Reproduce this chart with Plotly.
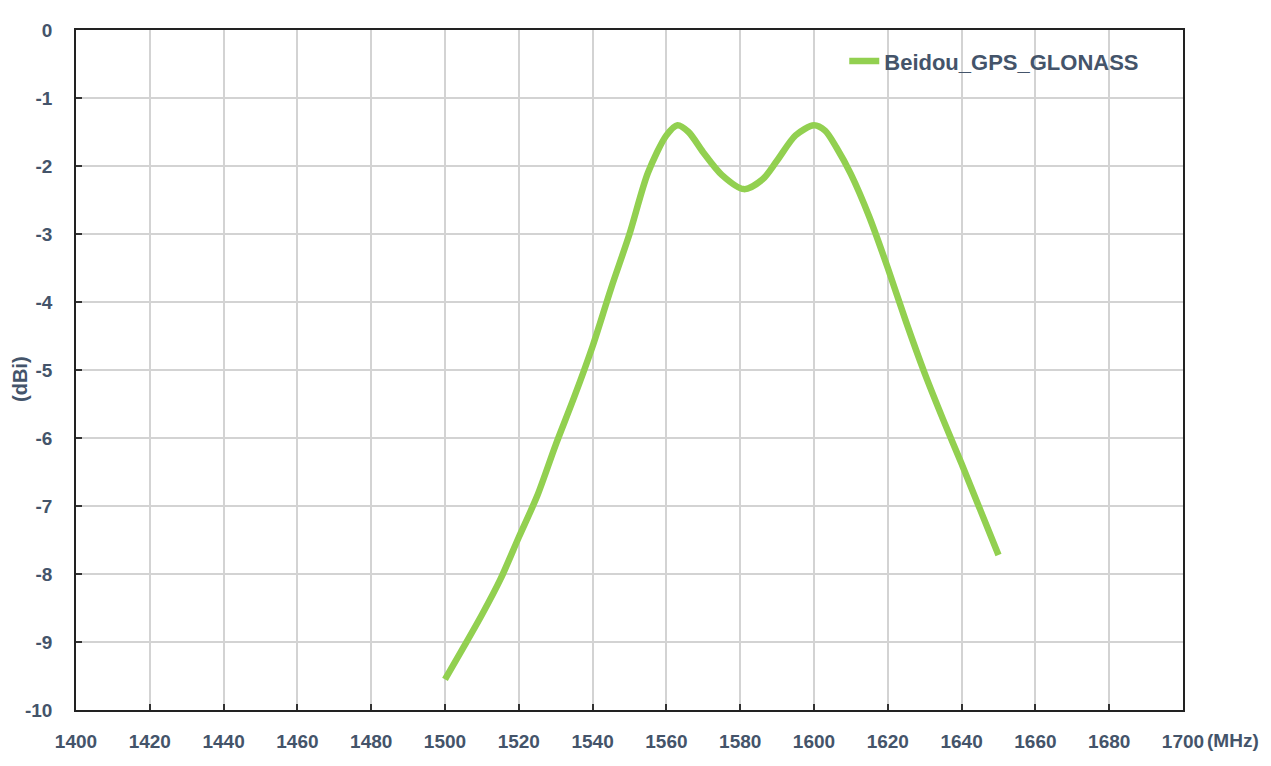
import plotly.graph_objects as go

freq_mhz = [1500, 1505, 1510, 1515, 1520, 1525, 1530, 1535, 1540, 1545, 1550, 1555,
            1560, 1563, 1566, 1570, 1575, 1581, 1586, 1590, 1595, 1600, 1603, 1606,
            1610, 1615, 1620, 1625, 1630, 1635, 1640, 1645, 1650]
gain_dbi = [-9.55, -9.08, -8.6, -8.08, -7.46, -6.85, -6.1, -5.4, -4.65, -3.8, -3.0, -2.1,
            -1.55, -1.40, -1.5, -1.8, -2.13, -2.34, -2.2, -1.92, -1.55, -1.40, -1.48, -1.72,
            -2.12, -2.75, -3.5, -4.3, -5.05, -5.73, -6.38, -7.05, -7.72]
series_name = "Beidou_GPS_GLONASS"
x_ticks = list(range(1400, 1701, 20))
y_ticks = list(range(-10, 1, 1))

text_color = "#44546A"
font_family = "Liberation Sans, Arial, sans-serif"

fig = go.Figure()
fig.add_trace(go.Scatter(
    x=freq_mhz, y=gain_dbi, mode="lines", name=series_name,
    line=dict(color="#92D050", width=6.5, shape="spline", smoothing=0.8),
))

axis_common = dict(
    showgrid=True, gridcolor="#D3D3D3", gridwidth=1.5,
    showline=True, linecolor="#222222", linewidth=1.5, mirror=True,
    ticks="inside", ticklen=6, tickcolor="#333333", tickwidth=1.5,
    tickfont=dict(size=19, color=text_color, weight="bold"), zeroline=False,
)

fig.update_layout(
    width=1263, height=758,
    margin=dict(l=68, r=88, t=14, b=56),
    plot_bgcolor="white", paper_bgcolor="white",
    font=dict(family=font_family, color=text_color, size=19, weight="bold"),
    showlegend=True,
    legend=dict(x=0.694, y=0.954, xanchor="left", yanchor="middle",
                bgcolor="rgba(0,0,0,0)", font=dict(size=22, color=text_color, weight="bold"),
                itemwidth=30),
    xaxis=dict(range=[1400, 1700], tickvals=x_ticks, ticktext=[str(v) for v in x_ticks],
               ticklabelstandoff=13, **axis_common),
    yaxis=dict(range=[-10, 0], tickvals=y_ticks, ticktext=[str(v) for v in y_ticks],
               ticklabelstandoff=18, **axis_common),
)

fig.add_annotation(text="(dBi)", xref="paper", yref="paper", x=0, y=0.5,
                   xanchor="center", yanchor="middle", xshift=-56, yshift=-9,
                   textangle=-90, showarrow=False, borderpad=0,
                   font=dict(size=20, color=text_color, weight="bold"))

fig.add_annotation(text="(MHz)", xref="paper", yref="paper", x=1.0, y=0,
                   xanchor="left", yanchor="middle", xshift=22, yshift=-30,
                   showarrow=False,
                   font=dict(size=19, color=text_color, weight="bold"))

fig.write_html("out.html")
